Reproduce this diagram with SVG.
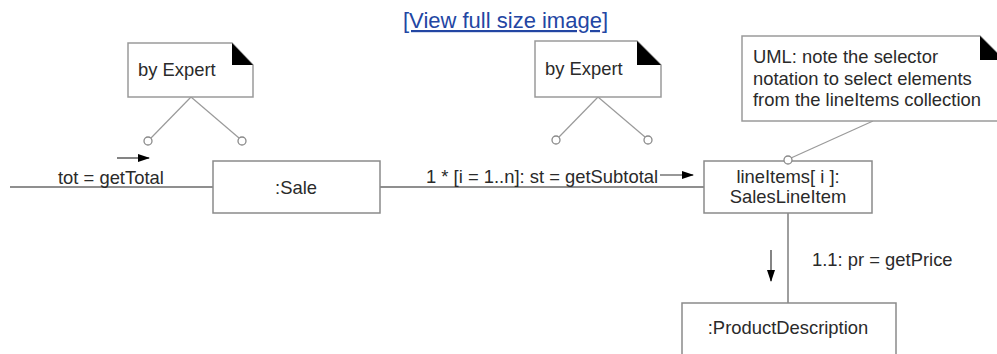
<svg xmlns="http://www.w3.org/2000/svg" width="997" height="354" viewBox="0 0 997 354">
<style>
text{font-family:"Liberation Sans",Arial,sans-serif;font-size:18.4px;fill:#2a2a2a}
.link{font-size:22px;fill:#2346a3;text-decoration:underline}
.box{fill:#fff;stroke:#8a8a8a;stroke-width:1.5}
.note{fill:#fff;stroke:#9a9a9a;stroke-width:1.5}
.fold{fill:#000}
.ln{stroke:#6a6a6a;stroke-width:1.3;fill:none}
.nl{stroke:#9a9a9a;stroke-width:1.2;fill:none}
.pin{fill:#fff;stroke:#8a8a8a;stroke-width:1.3}
.arr{stroke:#333;stroke-width:1.2;fill:none;marker-end:url(#ah)}
.c{text-anchor:middle}
</style>
<defs>
<marker id="ah" markerWidth="12" markerHeight="8" refX="11" refY="4" orient="auto" markerUnits="userSpaceOnUse">
<path d="M0,0 L12,4 L0,8 Z" fill="#000"/>
</marker>
</defs>
<rect width="997" height="354" fill="#fff"/>
<text class="link" x="403" y="28">[View full size image]</text>

<g id="connectors">
<line class="ln" x1="10" y1="187" x2="213" y2="187"/>
<line class="ln" x1="380" y1="187" x2="704" y2="187"/>
<line class="ln" x1="788" y1="213" x2="788" y2="303"/>
<line class="nl" x1="191" y1="97" x2="151" y2="138"/>
<line class="nl" x1="191" y1="97" x2="239" y2="138"/>
<line class="nl" x1="598" y1="97" x2="559" y2="137"/>
<line class="nl" x1="598" y1="97" x2="645" y2="137"/>
<line class="nl" x1="873" y1="121" x2="791" y2="158"/>
<circle class="pin" cx="148" cy="141" r="4"/>
<circle class="pin" cx="242" cy="141" r="4"/>
<circle class="pin" cx="556" cy="140" r="4"/>
<circle class="pin" cx="648" cy="140" r="4"/>
<line class="arr" x1="117" y1="158" x2="149" y2="158"/>
<line class="arr" x1="660" y1="175" x2="693" y2="175"/>
<line class="arr" x1="771" y1="250" x2="771" y2="281"/>
<text x="58" y="184">tot = getTotal</text>
<text x="426" y="183">1 * [i = 1..n]: st = getSubtotal</text>
<text x="812" y="266">1.1: pr = getPrice</text>
</g>

<g id="note1">
<path class="note" d="M128,43 H232 L253,65 V97 H128 Z"/>
<path class="fold" d="M232,43 L232,65 L253,65 Z"/>
<text x="138" y="76">by Expert</text>
</g>

<g id="note2">
<path class="note" d="M535,41 H637 L661,65 V97 H535 Z"/>
<path class="fold" d="M637,41 L637,65 L661,65 Z"/>
<text x="545" y="75">by Expert</text>
</g>

<g id="note3">
<path class="note" d="M742,36 H980 L1004,60 V121 H742 Z"/>
<path class="fold" d="M980,36 L980,60 L1004,60 Z"/>
<text x="753" y="63">UML: note the selector</text>
<text x="753" y="85">notation to select elements</text>
<text x="753" y="106">from the lineItems collection</text>
</g>

<g id="sale">
<rect class="box" x="213" y="161" width="167" height="52"/>
<text class="c" x="296" y="194">:Sale</text>
</g>

<g id="lineItems">
<rect class="box" x="704" y="161" width="168" height="52"/>
<text class="c" x="788" y="183">lineItems[ i ]:</text>
<text class="c" x="788" y="203">SalesLineItem</text>
</g>
<circle class="pin" cx="788" cy="160" r="4"/>

<g id="productDescription">
<rect class="box" x="682" y="303" width="214" height="60"/>
<text class="c" x="788" y="334">:ProductDescription</text>
</g>
</svg>
